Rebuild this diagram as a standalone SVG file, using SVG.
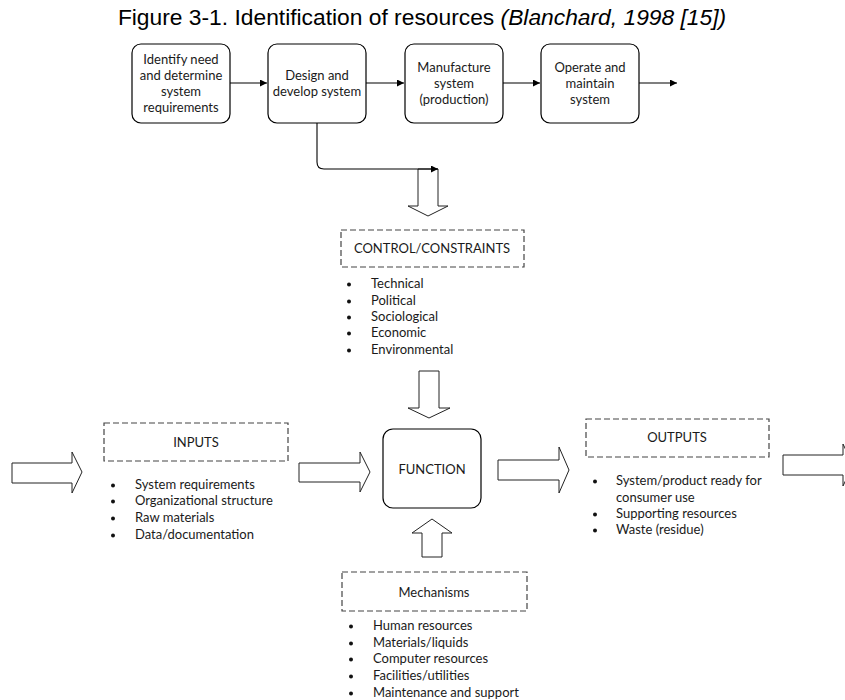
<svg xmlns="http://www.w3.org/2000/svg" width="845" height="700" viewBox="0 0 845 700">
  <style>
    .title { font-family: "Liberation Sans", Arial, sans-serif; font-size: 22.8px; fill: #000; }
    .t { font-family: Lato, "Open Sans", sans-serif; font-size: 13px; fill: #1a1a1a; }
    .c { text-anchor: middle; }
    .box { fill: #fff; stroke: #000; stroke-width: 1.2; }
    .dash { fill: #fff; stroke: #444; stroke-width: 1.2; stroke-dasharray: 6 3; }
    .block { fill: #fff; stroke: #222; stroke-width: 1; stroke-linejoin: miter; }
    .line { fill: none; stroke: #000; stroke-width: 1.1; }
    .dot { fill: #111; }
  </style>
  <defs>
    <marker id="head" markerUnits="userSpaceOnUse" markerWidth="8" markerHeight="7" refX="7" refY="3.5" orient="auto">
      <path d="M0,0 L7,3.5 L0,7 z" fill="#000"/>
    </marker>
  </defs>
  <rect width="845" height="700" fill="#fff"/>

  <text class="title c" x="422" y="25">Figure 3-1. Identification of resources <tspan font-style="italic">(Blanchard, 1998 [15])</tspan></text>

  <!-- life-cycle row -->
  <g id="identify">
    <rect class="box" x="132" y="44" width="98" height="79" rx="9"/>
    <text class="t c" x="181" y="63.5">Identify need</text>
    <text class="t c" x="181" y="79.8">and determine</text>
    <text class="t c" x="181" y="96.1">system</text>
    <text class="t c" x="181" y="112.4">requirements</text>
  </g>
  <g id="design">
    <rect class="box" x="268" y="44" width="98" height="79" rx="9"/>
    <text class="t c" x="317" y="79.5">Design and</text>
    <text class="t c" x="317" y="95.8">develop system</text>
  </g>
  <g id="manufacture">
    <rect class="box" x="405" y="44" width="98" height="79" rx="9"/>
    <text class="t c" x="454" y="71.5">Manufacture</text>
    <text class="t c" x="454" y="87.8">system</text>
    <text class="t c" x="454" y="104.1">(production)</text>
  </g>
  <g id="operate">
    <rect class="box" x="541" y="44" width="98" height="79" rx="9"/>
    <text class="t c" x="590" y="71.5">Operate and</text>
    <text class="t c" x="590" y="87.8">maintain</text>
    <text class="t c" x="590" y="104.1">system</text>
  </g>

  <!-- IDEF0 style function block -->
  <g id="control">
    <rect class="dash" x="341" y="230" width="183" height="37"/>
    <text class="t c" x="432" y="253">CONTROL/CONSTRAINTS</text>
    <circle class="dot" cx="349" cy="284.5" r="2"/><text class="t" x="371" y="288">Technical</text>
    <circle class="dot" cx="349" cy="301.5" r="2"/><text class="t" x="371" y="305">Political</text>
    <circle class="dot" cx="349" cy="317.5" r="2"/><text class="t" x="371" y="321">Sociological</text>
    <circle class="dot" cx="349" cy="333.5" r="2"/><text class="t" x="371" y="337">Economic</text>
    <circle class="dot" cx="349" cy="350.5" r="2"/><text class="t" x="371" y="354">Environmental</text>
  </g>
  <g id="inputs">
    <rect class="dash" x="104" y="423" width="184" height="38"/>
    <text class="t c" x="196" y="446.5">INPUTS</text>
    <circle class="dot" cx="113" cy="485.5" r="2"/><text class="t" x="135" y="489">System requirements</text>
    <circle class="dot" cx="113" cy="501.5" r="2"/><text class="t" x="135" y="505">Organizational structure</text>
    <circle class="dot" cx="113" cy="518.5" r="2"/><text class="t" x="135" y="522">Raw materials</text>
    <circle class="dot" cx="113" cy="535.5" r="2"/><text class="t" x="135" y="539">Data/documentation</text>
  </g>
  <g id="function">
    <rect class="box" x="383" y="429" width="98" height="79" rx="10"/>
    <text class="t c" x="432" y="473.5">FUNCTION</text>
  </g>
  <g id="outputs">
    <rect class="dash" x="586" y="419" width="183" height="38"/>
    <text class="t c" x="677" y="441.5">OUTPUTS</text>
    <circle class="dot" cx="595" cy="481.5" r="2"/><text class="t" x="616" y="485">System/product ready for</text>
    <text class="t" x="616" y="502">consumer use</text>
    <circle class="dot" cx="595" cy="514.5" r="2"/><text class="t" x="616" y="518">Supporting resources</text>
    <circle class="dot" cx="595" cy="530.5" r="2"/><text class="t" x="616" y="534">Waste (residue)</text>
  </g>
  <g id="mechanisms">
    <rect class="dash" x="342" y="572" width="185" height="39"/>
    <text class="t c" x="434" y="596.5">Mechanisms</text>
    <circle class="dot" cx="351" cy="626.5" r="2"/><text class="t" x="373" y="630">Human resources</text>
    <circle class="dot" cx="351" cy="643.5" r="2"/><text class="t" x="373" y="647">Materials/liquids</text>
    <circle class="dot" cx="351" cy="659.5" r="2"/><text class="t" x="373" y="663">Computer resources</text>
    <circle class="dot" cx="351" cy="676.5" r="2"/><text class="t" x="373" y="680">Facilities/utilities</text>
    <circle class="dot" cx="351" cy="693.5" r="2"/><text class="t" x="373" y="697">Maintenance and support</text>
  </g>

  <g id="connectors">
    <!-- block arrows -->
    <polygon class="block" points="418,169 438,169 438,206 448,206 428,216 408,206 418,206"/>
    <polygon class="block" points="419,371 439,371 439,408 450,408 429,418 408,408 419,408"/>
    <polygon class="block" points="422,557 442,557 442,533 452,533 432,519 412,533 422,533"/>
    <polygon class="block" points="12,463 72,463 72,452 82,472 72,493 72,483 12,483"/>
    <polygon class="block" points="299,463 360,463 360,452 370,472 360,492 360,482 299,482"/>
    <polygon class="block" points="498,460 559,460 559,447 569,470 559,493 559,480 498,480"/>
    <polygon class="block" points="783,455 843,455 843,444 853,465 843,486 843,475 783,475"/>
    <!-- life-cycle flow -->
    <path class="line" d="M230,83 H267" marker-end="url(#head)"/>
    <path class="line" d="M366,83 H404" marker-end="url(#head)"/>
    <path class="line" d="M503,83 H540" marker-end="url(#head)"/>
    <path class="line" d="M639,83 H677" marker-end="url(#head)"/>
    <path class="line" d="M317,123 V162 Q317,169 324,169 H438" marker-end="url(#head)"/>
  </g>
</svg>
